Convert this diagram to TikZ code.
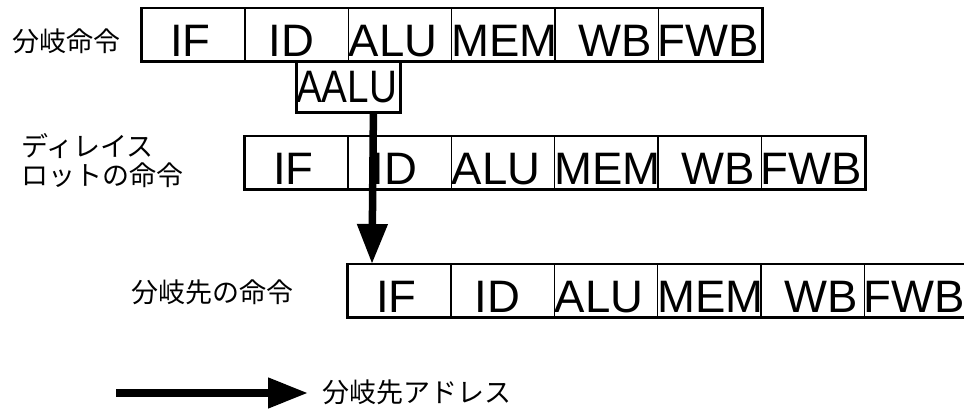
\documentclass[tikz,border=0pt]{standalone}
\usepackage{fontspec}
\usepackage{graphicx}
\setmainfont{Liberation Sans}
\newfontfamily\jpfont{Noto Sans CJK JP}
\usetikzlibrary{arrows.meta}
\newcommand\piperow[3]{%
  \foreach \lab/\off [count=\i from 0] in {IF/29,ID/24,ALU/1,MEM/0,WB/24,FWB/0} {
    \node[cell] (#1c\i) at (#2+\i*103.3, #3) {};
    \node[stage, xshift=\off pt, yshift=5pt] (#1t\i) at (#1c\i.south west) {\lab};
  }
  \draw[frame] (#1c0.north west) rectangle (#1c5.south east);
}
\begin{document}
\begin{tikzpicture}[x=1pt,y=-1pt,
  cell/.style={draw, line width=1.5pt, minimum width=103.3pt, minimum height=52pt, inner sep=0pt, anchor=north west},
  frame/.style={draw, line width=2.8pt},
  stage/.style={font=\fontsize{45.5}{45.5}\selectfont, inner sep=0pt, anchor=base west},
  jlab/.style={font=\jpfont\fontsize{27}{29}\selectfont, inner sep=0pt, align=left, anchor=west},
  big/.style={line width=7.5pt, -{Triangle[length=40pt,width=29pt]}}]
\useasboundingbox (0,0) rectangle (964,411);
\fill[white] (0,0) rectangle (964,411);

% row 1: branch instruction
\piperow{ra}{141}{8}
\node[cell, frame, minimum width=104pt, minimum height=51pt] (aalu) at (295,60) {};
\node[stage, xshift=1pt, yshift=11pt] (aalut) at (aalu.south west) {\scalebox{0.85}[1]{AALU}};

% row 2: delay slot
\piperow{rb}{244}{136}

% row 3: branch target
\piperow{rc}{347}{264}

% labels
\node[jlab] (l1) at (12,41) {分岐命令};
\node[jlab] (l2) at (21,161) {ディレイス\\ロットの命令};
\node[jlab] (l3) at (131,292) {分岐先の命令};
\node[jlab] (l4) at (322,392) {分岐先アドレス};

% arrows
\draw[big] ([xshift=25pt]aalu.south) -- ([xshift=25pt]rcc0.north west);
\coordinate (ls) at (116,393);
\draw[big] (ls) -- ([xshift=-14pt]l4.west |- ls);
\end{tikzpicture}
\end{document}
